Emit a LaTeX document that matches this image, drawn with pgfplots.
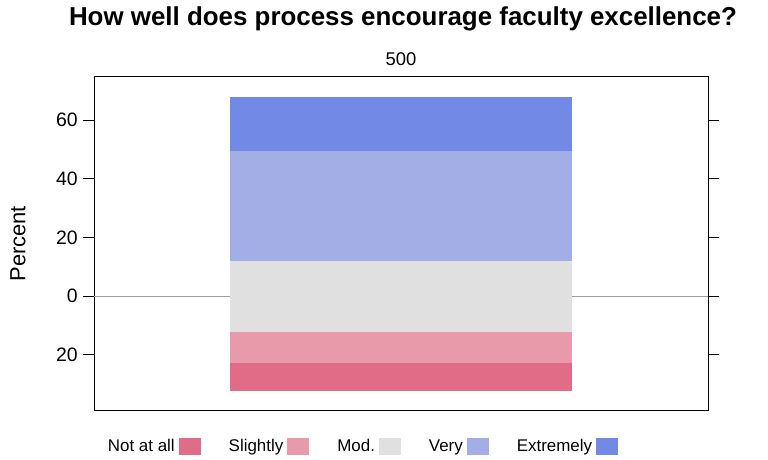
\documentclass[border=0pt]{standalone}
\usepackage{fontspec}
\setmainfont{Liberation Sans}
\usepackage{pgfplots}
\pgfplotsset{compat=1.18}

\definecolor{notatall}{HTML}{E16C88}
\definecolor{slightly}{HTML}{E89AAB}
\definecolor{modc}{HTML}{E0E0E0}
\definecolor{very}{HTML}{A2AEE5}
\definecolor{extremely}{HTML}{7389E6}

\begin{document}
\begin{tikzpicture}
  \useasboundingbox (0,0) rectangle (768bp,460bp);

  % title
  \node[font=\fontsize{26}{30}\selectfont\bfseries] at (403bp,441bp)
    {How well does process encourage faculty excellence?};

  \begin{axis}[
    at={(94bp,49.3bp)}, anchor=south west,
    width=614bp, height=334bp, scale only axis,
    xmin=-1, xmax=1,
    ymin=-39.1, ymax=74.8,
    ybar stacked, stack negative=on previous, bar width=1.114,
    axis line style={line width=0.8pt},
    tick style={line width=0.8pt, black},
    tick align=outside,
    major tick length=11bp,
    ytick={-20,0,20,40,60},
    ytick pos=both, yticklabel pos=left,
    yticklabel={\pgfmathparse{abs(\tick)}\pgfmathprintnumber{\pgfmathresult}},
    yticklabel style={font=\fontsize{19.5}{21}\selectfont, inner sep=5bp},
    xtick={0}, xticklabels={500},
    xticklabel pos=upper,
    x tick style={draw=none},
    xticklabel style={font=\fontsize{18.5}{20}\selectfont, yshift=-4bp},
    /pgf/number format/assume math mode=true,
    extra y ticks={0},
    extra y tick labels={},
    extra y tick style={grid=major, major grid style={gray!75, line width=0.8pt}},
    ylabel={Percent},
    ylabel style={font=\fontsize{22}{24}\selectfont, at={(axis description cs:-0.124,0.5)}, anchor=center},
    legend columns=5,
    legend plot pos=right,
    legend style={draw=none, fill=none,
      at={(axis description cs:0.4365,-0.1057)}, anchor=center,
      font=\fontsize{17}{20}\selectfont,
      /tikz/every even column/.append style={column sep=26bp},
      /tikz/every odd column/.append style={column sep=2bp}},
    legend image code/.code={\fill[#1] (0bp,-8.5bp) rectangle (22bp,8.5bp);},
  ]
    % invisible offset so that the bar is centred on the neutral category
    \addplot[fill=none, draw=none] coordinates {(0,-32.39)};
    \addplot[fill=notatall, draw=none] coordinates {(0,9.65)};
    \addplot[fill=slightly, draw=none] coordinates {(0,10.6)};
    \addplot[fill=modc, draw=none] coordinates {(0,24.2)};
    \addplot[fill=very, draw=none] coordinates {(0,37.5)};
    \addplot[fill=extremely, draw=none] coordinates {(0,18.4)};
    \legend{,Not at all, Slightly, Mod., Very, Extremely}
  \end{axis}
\end{tikzpicture}
\end{document}
